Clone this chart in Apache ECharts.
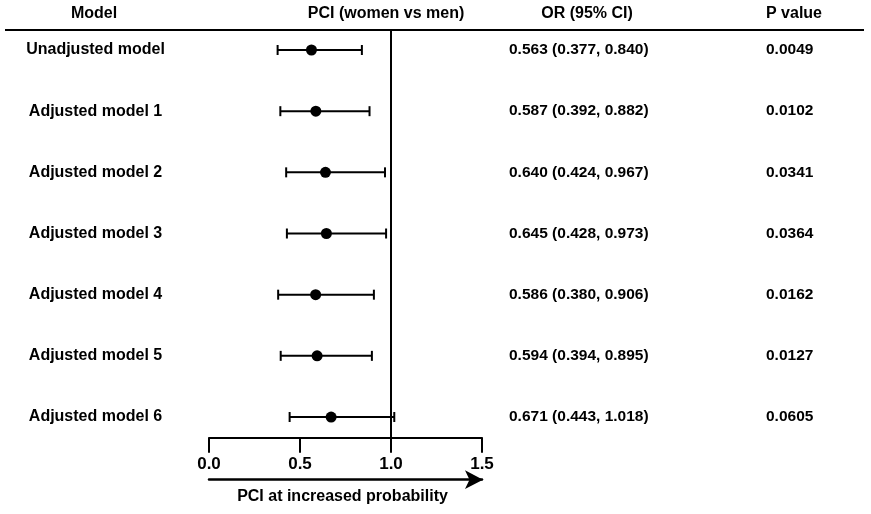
<!DOCTYPE html>
<html>
<head>
<meta charset="utf-8">
<script src="https://cdn.jsdelivr.net/npm/echarts@6/dist/echarts.min.js"></script>
<style>html,body{margin:0;padding:0;background:#fff;}#chart{width:871px;height:514px;}</style>
</head>
<body>
<div id="chart"></div>
<script>
var models = ['Unadjusted model','Adjusted model 1','Adjusted model 2','Adjusted model 3','Adjusted model 4','Adjusted model 5','Adjusted model 6'];
var orValues = [0.563,0.587,0.640,0.645,0.586,0.594,0.671];
var ciLow = [0.377,0.392,0.424,0.428,0.380,0.394,0.443];
var ciHigh = [0.840,0.882,0.967,0.973,0.906,0.895,1.018];
var pValues = ['0.0049','0.0102','0.0341','0.0364','0.0162','0.0127','0.0605'];
var headers = ['Model','PCI (women vs men)','OR (95% CI)','P value'];
var axisTitle = 'PCI at increased probability';

var FONT = '"Liberation Sans", Arial, Helvetica, sans-serif';
var rows = models.map(function(m,i){ return [i, ciLow[i], ciHigh[i], orValues[i]]; });

var chart = echarts.init(document.getElementById('chart'));
chart.setOption({
  animation:false,
  backgroundColor:'#fff',
  grid:{left:209, right:389, top:30, bottom:76.3},
  xAxis:[{
    type:'value', min:0, max:1.5, interval:0.5, position:'bottom',
    axisLine:{show:true, onZero:false, lineStyle:{color:'#000', width:2}},
    axisTick:{show:true, length:15, lineStyle:{color:'#000', width:2}},
    axisLabel:{color:'#000', fontFamily:FONT, fontWeight:'bold', fontSize:17, margin:18,
      formatter:function(v){return v.toFixed(1);}},
    splitLine:{show:false}
  },{
    type:'value', min:0, max:1.5, position:'bottom', offset:42,
    axisLine:{show:true, onZero:false, symbol:['none','arrow'], symbolSize:[14,18], symbolOffset:[0,1], lineStyle:{color:'#000', width:2.5}},
    axisTick:{show:false}, axisLabel:{show:false}, splitLine:{show:false},
    name:axisTitle, nameLocation:'middle', nameGap:9,
    nameTextStyle:{color:'#000', fontFamily:FONT, fontWeight:'bold', fontSize:16, padding:[0,6,0,0]}
  }],
  yAxis:{type:'value', inverse:true, min:-0.327, max:6.338, show:false},
  graphic:[
    {type:'line', shape:{x1:5,y1:30,x2:864,y2:30}, style:{stroke:'#000', lineWidth:2}},
    {type:'text', x:94, y:14, style:{text:headers[0], font:'bold 16px '+FONT, fill:'#000', align:'center', verticalAlign:'middle'}},
    {type:'text', x:386, y:14, style:{text:headers[1], font:'bold 16px '+FONT, fill:'#000', align:'center', verticalAlign:'middle'}},
    {type:'text', x:587, y:14, style:{text:headers[2], font:'bold 16px '+FONT, fill:'#000', align:'center', verticalAlign:'middle'}},
    {type:'text', x:794, y:14, style:{text:headers[3], font:'bold 16px '+FONT, fill:'#000', align:'center', verticalAlign:'middle'}}
  ],
  series:[
    {
      type:'custom', clip:false, data:rows, silent:true,
      renderItem:function(params, api){
        var i = api.value(0);
        var p1 = api.coord([api.value(1), i]);
        var p2 = api.coord([api.value(2), i]);
        var h = 5;
        var st = {stroke:'#000', lineWidth:2};
        return {type:'group', children:[
          {type:'line', shape:{x1:p1[0],y1:p1[1],x2:p2[0],y2:p2[1]}, style:st},
          {type:'line', shape:{x1:p1[0],y1:p1[1]-h,x2:p1[0],y2:p1[1]+h}, style:st},
          {type:'line', shape:{x1:p2[0],y1:p2[1]-h,x2:p2[0],y2:p2[1]+h}, style:st}
        ]};
      },
      markLine:{silent:true, symbol:'none', label:{show:false},
        lineStyle:{color:'#000', width:2, type:'solid', opacity:1}, data:[{xAxis:1}]}
    },
    {
      type:'scatter', data:orValues.map(function(v,i){return [v,i];}),
      symbol:'circle', symbolSize:11, itemStyle:{color:'#000', opacity:1}, silent:true, z:5
    },
    {
      type:'custom', clip:false, silent:true, data:rows,
      renderItem:function(params, api){
        var i = api.value(0);
        var y = api.coord([0, i])[1];
        var orText = orValues[i].toFixed(3)+' ('+ciLow[i].toFixed(3)+', '+ciHigh[i].toFixed(3)+')';
        return {type:'group', children:[
          {type:'text', x:95.5, y:y, style:{text:models[i], font:'bold 16px '+FONT, fill:'#000', align:'center', verticalAlign:'middle'}},
          {type:'text', x:509, y:y, style:{text:orText, font:'bold 15.5px '+FONT, fill:'#000', align:'left', verticalAlign:'middle'}},
          {type:'text', x:766, y:y, style:{text:pValues[i], font:'bold 15.5px '+FONT, fill:'#000', align:'left', verticalAlign:'middle'}}
        ]};
      }
    }
  ]
});
</script>
</body>
</html>
